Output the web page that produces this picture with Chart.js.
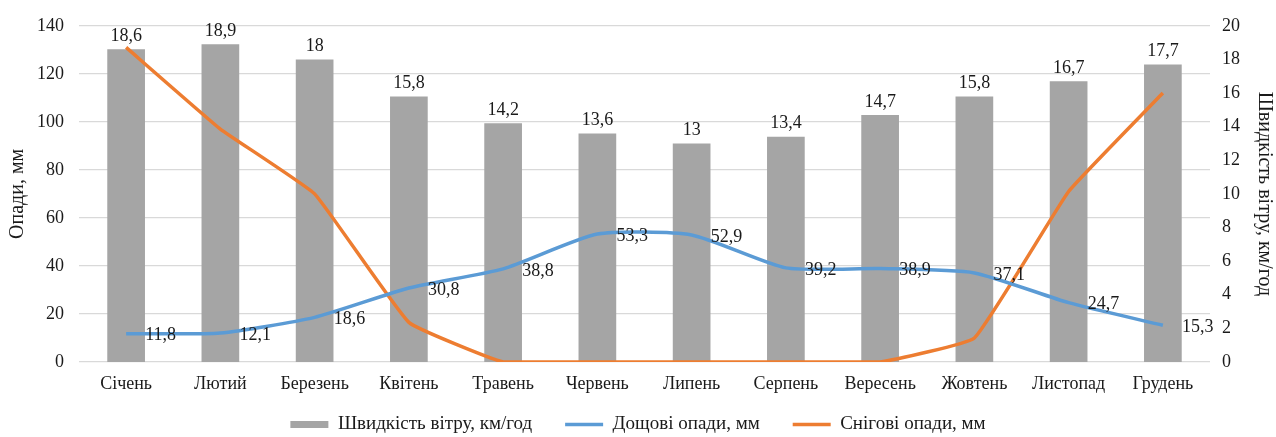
<!DOCTYPE html>
<html lang="uk">
<head>
<meta charset="utf-8">
<title>Опади та швидкість вітру</title>
<script src="https://cdn.jsdelivr.net/npm/chart.js@4/dist/chart.umd.min.js"></script>
<style>
  html, body { margin: 0; padding: 0; background: #fff; }
  #wrap { width: 1276px; height: 437px; position: relative; }
</style>
</head>
<body>
<div id="wrap"><canvas id="chart"></canvas></div>
<script>
// Monthly climate data
const months = ['Січень', 'Лютий', 'Березень', 'Квітень', 'Травень', 'Червень',
                'Липень', 'Серпень', 'Вересень', 'Жовтень', 'Листопад', 'Грудень'];
const windSpeed = [18.6, 18.9, 18, 15.8, 14.2, 13.6, 13, 13.4, 14.7, 15.8, 16.7, 17.7];
const rainfall = [11.8, 12.1, 18.6, 30.8, 38.8, 53.3, 52.9, 39.2, 38.9, 37.1, 24.7, 15.3];
const snowfall = [131, 97, 70, 16.5, 0, 0, 0, 0, 0, 10, 71, 112];
const leftTicks = [0, 20, 40, 60, 80, 100, 120, 140];
const rightTicks = [0, 2, 4, 6, 8, 10, 12, 14, 16, 18, 20];

const FONT = '"Liberation Serif", "Times New Roman", serif';
const TEXT = '#1a1a1a';

const fmt = v => String(v).replace('.', ',');

// Value labels: above the bars, to the right of the rainfall points
const valueLabels = {
  id: 'valueLabels',
  afterDatasetsDraw(chart) {
    const ctx = chart.ctx;
    ctx.save();
    ctx.font = '18px ' + FONT;
    ctx.fillStyle = TEXT;
    const barMeta = chart.getDatasetMeta(0);
    ctx.textAlign = 'center';
    ctx.textBaseline = 'bottom';
    barMeta.data.forEach((el, i) => {
      ctx.fillText(fmt(windSpeed[i]), el.x, el.y - 4);
    });
    const rainMeta = chart.getDatasetMeta(1);
    ctx.textAlign = 'left';
    ctx.textBaseline = 'middle';
    rainMeta.data.forEach((el, i) => {
      ctx.fillText(fmt(rainfall[i]), el.x + 19, el.y + 2);
    });
    ctx.restore();
  }
};

// Pull the legend row up closer to the month labels
const legendOffset = {
  id: 'legendOffset',
  afterLayout(chart) {
    const lg = chart.legend;
    if (lg) { lg.top -= 12; lg.bottom -= 12; }
  }
};

new Chart(document.getElementById('chart'), {
  type: 'bar',
  data: {
    labels: months,
    datasets: [
      {
        type: 'bar',
        label: 'Швидкість вітру, км/год',
        data: windSpeed,
        yAxisID: 'y2',
        backgroundColor: '#a5a5a5',
        borderWidth: 0,
        barPercentage: 0.4,
        categoryPercentage: 1,
        pointStyle: 'rect',
        order: 3
      },
      {
        type: 'line',
        label: 'Дощові опади, мм',
        data: rainfall,
        yAxisID: 'y',
        borderColor: '#5b9bd5',
        backgroundColor: '#5b9bd5',
        borderWidth: 3.5,
        pointRadius: 0,
        pointStyle: 'line',
        tension: 0.2,
        fill: false,
        order: 1
      },
      {
        type: 'line',
        label: 'Снігові опади, мм',
        data: snowfall,
        yAxisID: 'y',
        borderColor: '#ed7d31',
        backgroundColor: '#ed7d31',
        borderWidth: 3.5,
        pointRadius: 0,
        pointStyle: 'line',
        tension: 0.1,
        fill: false,
        order: 2
      }
    ]
  },
  options: {
    responsive: true,
    maintainAspectRatio: false,
    animation: false,
    layout: { padding: { top: 14, left: 0, right: 0, bottom: -19 } },
    plugins: {
      tooltip: { enabled: false },
      legend: {
        position: 'bottom',
        labels: {
          sort: (a, b) => a.datasetIndex - b.datasetIndex,
          usePointStyle: true,
          pointStyleWidth: 38,
          boxHeight: 7,
          padding: 33,
          color: TEXT,
          font: { family: FONT, size: 19 }
        }
      }
    },
    scales: {
      x: {
        grid: { display: false, drawTicks: false },
        border: { display: false },
        ticks: { color: TEXT, font: { family: FONT, size: 18 }, padding: 11, maxRotation: 0 },
        afterFit: s => { s.height = 32; }
      },
      y: {
        position: 'left',
        min: 0,
        max: 140,
        afterBuildTicks: s => { s.ticks = leftTicks.map(v => ({ value: v })); },
        grid: { color: '#d9d9d9', lineWidth: 1.2, drawTicks: false },
        border: { display: false },
        ticks: { color: TEXT, font: { family: FONT, size: 18 }, padding: 15 },
        title: { display: true, text: 'Опади, мм', color: TEXT, font: { family: FONT, size: 20 }, padding: { top: 6, bottom: 0 } },
        afterFit: s => { s.width = 79; }
      },
      y2: {
        position: 'right',
        min: 0,
        max: 20,
        afterBuildTicks: s => { s.ticks = rightTicks.map(v => ({ value: v })); },
        grid: { display: false, drawTicks: false },
        border: { display: false },
        ticks: { color: TEXT, font: { family: FONT, size: 18 }, padding: 12 },
        title: { display: true, text: 'Швидкість вітру, км/год', color: TEXT, font: { family: FONT, size: 20 }, padding: { top: 0, bottom: 0 } },
        afterFit: s => { s.width = 66; }
      }
    }
  },
  plugins: [valueLabels, legendOffset]
});
</script>
</body>
</html>
